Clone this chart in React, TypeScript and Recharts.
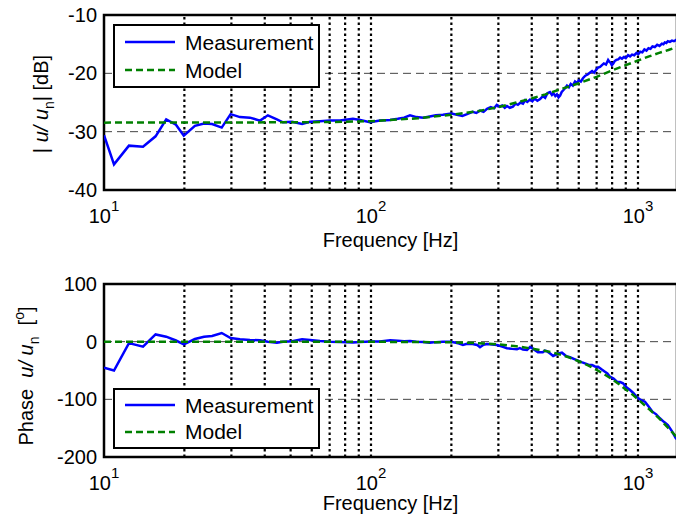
import React from 'react';
import {
  LineChart,
  Line,
  XAxis,
  YAxis,
  CartesianGrid,
  ReferenceLine,
  Legend,
} from 'recharts';

const FONT = '"Liberation Sans", Arial, Helvetica, sans-serif';
const BLUE = '#0000ff';
const GREEN = '#008000';

// panel geometry
const CHART_W = 680;
const CHART_H = 262;
const AXIS_W = 104;
const RIGHT_PAD = 3;

// shared log frequency axis
const freqRange = [10, 1400];
const decades = [10, 100, 1000];
const freqGrid = [20, 30, 40, 50, 60, 70, 80, 90, 100, 200, 300, 400, 500, 600, 700, 800, 900, 1000];

const magTicks = [-40, -30, -20, -10];
const phaseTicks = [-200, -100, 0, 100];

// magnitude, measured [Hz] / [dB]
const magMeasFreq = [
  10, 10.9, 12.4, 14.0, 15.6, 17.1, 18.6, 19.9, 21.9, 23.7,
  25.4, 27.6, 29.8, 32.3, 35.2, 38.4, 41.1, 44.4, 46.8, 50.6,
  55.2, 59.1, 64.4, 70.2, 76.5, 85.6, 91.0, 99.2, 108, 118,
  126, 133, 140, 148, 157, 166, 175, 186, 200, 210,
  220, 229, 240, 248, 256, 264, 272, 281, 289, 296,
  303, 310, 317, 323, 331, 340, 348, 355, 363, 371,
  378, 385, 394, 402, 410, 420, 430, 440, 449, 458,
  468, 476, 482, 490, 497, 504, 511, 518, 525, 534,
  542, 551, 560, 570, 581, 590, 600, 611, 623, 635,
  648, 660, 673, 685, 697, 709, 721, 733, 745, 759,
  773, 781, 790, 798, 806, 818, 830, 843, 857, 871,
  885, 900, 918, 934, 950, 968, 987, 1003, 1020, 1038,
  1057, 1076, 1095, 1114, 1133, 1156, 1180, 1204, 1229, 1245,
  1260, 1277, 1294, 1317, 1340, 1363, 1387, 1400,
];
const magMeasDb = [
  -30.6, -35.6, -32.4, -32.6, -30.8, -27.9, -28.8, -30.7, -29.0, -28.6,
  -28.7, -29.3, -27.0, -27.5, -27.6, -28.1, -27.2, -27.9, -28.4, -28.3,
  -28.7, -28.3, -28.2, -28.1, -28.1, -27.8, -28.0, -28.4, -28.1, -28.0,
  -27.8, -27.6, -27.2, -27.5, -27.6, -27.4, -27.2, -27.1, -26.9, -27.1,
  -27.3, -27.0, -26.6, -26.8, -26.4, -26.6, -26.1, -25.8, -26.0, -25.4,
  -25.7, -25.5, -25.9, -25.6, -25.9, -25.7, -25.2, -25.4, -25.0, -25.2,
  -24.6, -24.9, -24.5, -24.8, -24.3, -24.7, -24.4, -23.9, -24.2, -23.4,
  -23.2, -23.7, -23.4, -23.9, -23.6, -24.1, -23.8, -23.2, -22.9, -22.5,
  -22.1, -22.4, -21.8, -22.1, -21.4, -21.7, -21.2, -21.4, -20.8, -20.4,
  -20.2, -19.9, -19.6, -19.9, -19.4, -19.0, -18.9, -18.6, -18.3, -18.5,
  -17.7, -18.0, -18.2, -18.6, -18.4, -17.9, -17.7, -17.6, -17.3, -17.5,
  -17.2, -17.4, -16.9, -17.1, -16.8, -16.9, -16.5, -16.7, -16.3, -16.4,
  -15.9, -16.1, -15.7, -15.8, -15.4, -15.5, -15.1, -15.3, -14.9, -15.0,
  -14.7, -14.8, -14.5, -14.6, -14.4, -14.5, -14.3, -14.2,
];

// magnitude, model
const magModelFreq = [10, 50, 70, 100, 150, 200, 250, 300, 350, 400, 450, 500, 600, 700, 800, 900, 1000, 1100, 1200, 1300, 1400];
const magModelDb = [-28.45, -28.4, -28.35, -28.2, -27.7, -27.1, -26.5, -25.8, -25.0, -24.3, -23.6, -22.9, -21.7, -20.6, -19.5, -18.6, -17.8, -17.1, -16.5, -16.0, -15.5];

// phase, measured [Hz] / [deg]
const phaseMeasFreq = [
  10, 10.9, 12.4, 14.0, 15.6, 17.1, 18.6, 19.9, 21.9, 23.7,
  25.4, 27.6, 29.8, 32.3, 35.2, 38.4, 41.1, 44.4, 46.8, 50.6,
  55.2, 59.1, 64.4, 70.2, 76.5, 85.6, 91.0, 99.2, 108, 118,
  126, 133, 140, 148, 157, 166, 175, 186, 198, 206,
  214, 221, 229, 240, 250, 256, 264, 272, 284, 296,
  310, 323, 338, 352, 361, 371, 384, 394, 405, 422,
  440, 448, 456, 470, 481, 500, 519, 538, 556, 575,
  596, 615, 633, 652, 673, 690, 708, 730, 752, 768,
  785, 810, 834, 857, 879, 905, 934, 960, 987, 1023,
  1062, 1098, 1133, 1170, 1208, 1250, 1294, 1340, 1387, 1400,
];
const phaseMeasDeg = [
  -45, -50, -2.5, -8.7, 12.5, 8.6, 2.0, -4.5, 4.6, 8.6,
  9.8, 15.0, 6.4, 4.0, 2.9, 2.5, 0.0, -2.0, 0.0, 0.6,
  4.0, 3.0, 1.0, 0.0, -0.6, -1.5, -0.5, 0.5, 0.3, 2.5,
  1.8, 0.8, 1.2, 0.0, -0.6, -1.7, -0.8, -0.3, 0.0, -1.5,
  -3.2, -5.7, -3.5, -4.2, -5.7, -9.6, -5.2, -4.0, -5.0, -5.7,
  -8.6, -11.4, -12.5, -13.2, -11.0, -13.6, -14.4, -9.5, -12.5, -18.5,
  -18.5, -15.7, -16.5, -21.0, -24.8, -21.0, -19.1, -25.0, -27.1, -30.0,
  -33.0, -35.5, -37.6, -40.0, -40.5, -43.0, -43.4, -48.0, -52.1, -55.0,
  -60.7, -64.0, -69.4, -70.0, -72.2, -79.0, -83.8, -89.0, -95.4, -101.0,
  -104.1, -113.0, -121.4, -126.0, -132.9, -139.0, -144.5, -155.0, -167.6, -169.0,
];

// phase, model
const phaseModelFreq = [10, 50, 100, 150, 200, 250, 300, 350, 400, 450, 500, 550, 600, 650, 700, 750, 800, 850, 900, 950, 1000, 1100, 1200, 1300, 1400];
const phaseModelDeg = [0, 0, -0.2, -0.6, -1.2, -2.5, -4.5, -8, -12, -16, -21, -27, -34, -41, -49, -57, -65, -74, -83, -91, -100, -117, -133, -150, -166];

const toRows = (f: number[], v: number[]) => f.map((x, i) => ({ f: x, v: v[i] }));

function DecadeTick(props: any) {
  const { x, y, payload } = props;
  const exp = Math.round(Math.log10(payload.value));
  return (
    <text x={x} y={y + 33} textAnchor="middle" fontFamily={FONT} fontSize={20} fill="#000">
      <tspan>10</tspan>
      <tspan dy={-12} fontSize={15}>{exp}</tspan>
    </text>
  );
}

function FreqTitle({ viewBox, dy }: any) {
  const cx = viewBox.x + viewBox.width / 2;
  return (
    <text x={cx} y={viewBox.y + dy} textAnchor="middle" fontFamily={FONT} fontSize={20} fill="#000">
      Frequency [Hz]
    </text>
  );
}

function MagTitle({ x, y }: { x: number; y: number }) {
  return (
    <text
      transform={`translate(${x},${y}) rotate(-90)`}
      textAnchor="middle"
      fontFamily={FONT}
      fontSize={20}
      fill="#000"
      style={{ whiteSpace: 'pre' }}
    >
      <tspan>| </tspan>
      <tspan fontStyle="italic">u/ u</tspan>
      <tspan dy={6} fontSize={14}>n</tspan>
      <tspan dy={-6}>| [dB]</tspan>
    </text>
  );
}

function PhaseTitle({ x, y }: { x: number; y: number }) {
  return (
    <text
      transform={`translate(${x},${y}) rotate(-90)`}
      textAnchor="middle"
      fontFamily={FONT}
      fontSize={20}
      fill="#000"
      style={{ whiteSpace: 'pre' }}
    >
      <tspan>Phase  </tspan>
      <tspan fontStyle="italic">u/ u</tspan>
      <tspan dy={6} fontSize={14}>n</tspan>
      <tspan dy={-6}>  [</tspan>
      <tspan dy={-9} fontSize={14}>o</tspan>
      <tspan dy={9}>]</tspan>
    </text>
  );
}

function BoxLegend({ payload, height }: any) {
  const step = (height - 8) / 2;
  return (
    <div
      style={{
        position: 'relative',
        width: 207,
        height,
        boxSizing: 'border-box',
        border: '2px solid #000',
        background: '#fff',
        fontFamily: FONT,
        fontSize: 21,
        color: '#000',
      }}
    >
      {(payload || []).map((entry: any, i: number) => (
        <div
          key={entry.value}
          style={{ position: 'absolute', left: 10, top: 2 + i * step, height: step, display: 'flex', alignItems: 'center' }}
        >
          <svg width={50} height={8}>
            <line
              x1={0}
              x2={50}
              y1={4}
              y2={4}
              stroke={entry.color}
              strokeWidth={2.5}
              strokeDasharray={entry.payload?.strokeDasharray}
            />
          </svg>
          <span style={{ marginLeft: 10, lineHeight: 1 }}>{entry.value}</span>
        </div>
      ))}
    </div>
  );
}

type PanelProps = {
  ticks: number[];
  measured: { f: number; v: number }[];
  model: { f: number; v: number }[];
  marginTop: number;
  axisHeight: number;
  titleDy: number;
  legendTop: number;
  legendHeight: number;
  title: React.ReactNode;
};

function BodePanel({ ticks, measured, model, marginTop, axisHeight, titleDy, legendTop, legendHeight, title }: PanelProps) {
  const yRange = [ticks[0], ticks[ticks.length - 1]];
  const plotW = CHART_W - AXIS_W - RIGHT_PAD;
  const plotH = CHART_H - marginTop - axisHeight;
  return (
    <LineChart width={CHART_W} height={CHART_H} margin={{ top: marginTop, right: RIGHT_PAD, bottom: 0, left: 0 }}>
      <CartesianGrid vertical={false} stroke="#444" strokeDasharray="8 5" />
      {freqGrid.map((f) => (
        <ReferenceLine key={f} x={f} stroke="#000" strokeWidth={2.2} strokeDasharray="2.5 3" />
      ))}
      <XAxis
        dataKey="f"
        type="number"
        scale="log"
        domain={freqRange}
        allowDataOverflow
        ticks={decades}
        interval={0}
        height={axisHeight}
        tickSize={0}
        tickMargin={0}
        axisLine={false}
        tick={(p: any) => <DecadeTick {...p} />}
        label={(p: any) => <FreqTitle viewBox={p.viewBox} dy={titleDy} />}
      />
      <YAxis
        type="number"
        domain={yRange}
        ticks={ticks}
        interval={0}
        allowDataOverflow
        width={AXIS_W}
        tickSize={0}
        tickMargin={7}
        axisLine={false}
        tick={{ fontSize: 20, fill: '#000', fontFamily: FONT }}
      />
      <Line
        data={measured}
        dataKey="v"
        name="Measurement"
        type="linear"
        stroke={BLUE}
        strokeWidth={2.5}
        dot={false}
        isAnimationActive={false}
      />
      <Line
        data={model}
        dataKey="v"
        name="Model"
        type="linear"
        stroke={GREEN}
        strokeWidth={2.5}
        strokeDasharray="7 4"
        dot={false}
        isAnimationActive={false}
      />
      {/* axes box */}
      <rect
        x={AXIS_W}
        y={marginTop}
        width={plotW}
        height={plotH}
        fill="none"
        stroke="#000"
        strokeWidth={2.5}
      />
      <Legend
        layout="vertical"
        align="center"
        verticalAlign="middle"
        wrapperStyle={{ left: 113, top: legendTop, width: 207, height: legendHeight }}
        content={(p: any) => <BoxLegend payload={p.payload} height={legendHeight} />}
      />
      {title}
    </LineChart>
  );
}

export default function App() {
  return (
    <div
      style={{
        position: 'fixed',
        left: 0,
        top: 0,
        width: 676,
        height: 524,
        overflow: 'hidden',
        background: '#fff',
      }}
    >
      <div style={{ position: 'absolute', left: 0, top: 0 }}>
        <BodePanel
          ticks={magTicks}
          measured={toRows(magMeasFreq, magMeasDb)}
          model={toRows(magModelFreq, magModelDb)}
          marginTop={15}
          axisHeight={72}
          titleDy={57}
          legendTop={24}
          legendHeight={64}
          title={<MagTitle x={48} y={104} />}
        />
      </div>
      <div style={{ position: 'absolute', left: 0, top: 262 }}>
        <BodePanel
          ticks={phaseTicks}
          measured={toRows(phaseMeasFreq, phaseMeasDeg)}
          model={toRows(phaseModelFreq, phaseModelDeg)}
          marginTop={22}
          axisHeight={67}
          titleDy={53}
          legendTop={126}
          legendHeight={61}
          title={<PhaseTitle x={33} y={114} />}
        />
      </div>
    </div>
  );
}
